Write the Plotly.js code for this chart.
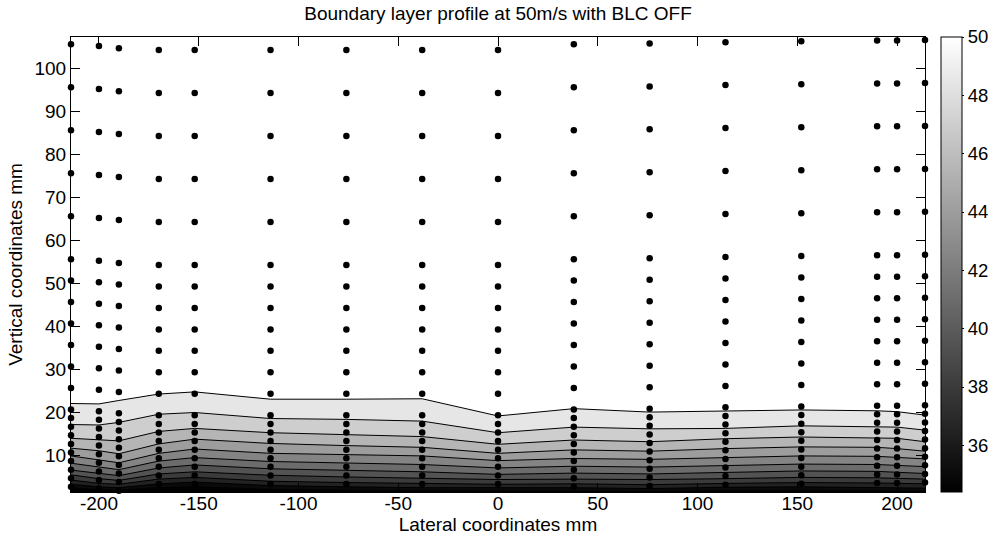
<!DOCTYPE html>
<html>
<head>
<meta charset="utf-8">
<script src="https://cdn.plot.ly/plotly-3.0.1.min.js"></script>
<style>
  html, body { margin: 0; padding: 0; background: #ffffff; }
  #chart { width: 988px; height: 540px; }
</style>
</head>
<body>
<div id="chart"></div>
<script>
// Lateral positions of the traverses (mm)
const lateralStations = [-214, -200, -190, -170, -152, -114, -76, -38, 0, 38, 76, 114, 152, 190, 200, 214];

// Nominal probe heights above the wall (mm) and the height offset of each traverse (mm)
const probeHeights = [2, 4, 6, 8, 10, 12, 14, 16, 18, 20, 25, 30, 35, 40, 45, 50, 55, 65, 75, 85, 95, 105];
const traverseOffset = [0.6, 0.2, -0.3, -0.75, -0.75, -0.75, -0.75, -0.75, -0.75, 0.6, 0.8, 1.1, 1.3, 1.5, 1.5, 1.6];

// Velocity range of the measurements (m/s)
const velocityMin = 34.4;
const velocityMax = 50;

// Iso-velocity levels (m/s)
const contourLevels = [35, 36.5, 38, 39.5, 41, 42.5, 44, 45.5, 47, 48.5, 50];

// Height (mm) of each iso-velocity line at every traverse
const level35   = [2.4, 1.9, 1.8, 2.4, 2.6, 2.0, 1.8, 1.7, 1.7, 1.6, 1.6, 1.7, 1.8, 1.7, 1.7, 1.6];
const level36_5 = [3.2, 2.6, 2.4, 3.3, 3.7, 2.9, 2.6, 2.4, 2.4, 2.4, 2.2, 2.5, 2.6, 2.5, 2.5, 2.3];
const level38   = [4.2, 3.4, 3.2, 4.4, 4.8, 3.9, 3.6, 3.4, 3.2, 3.3, 3.1, 3.4, 3.6, 3.5, 3.4, 3.3];
const level39_5 = [5.4, 4.5, 4.1, 5.6, 6.1, 5.3, 4.9, 4.6, 4.3, 4.4, 4.3, 4.5, 4.8, 4.7, 4.6, 4.4];
const level41   = [6.5, 5.7, 5.2, 7.0, 7.7, 6.8, 6.4, 6.1, 5.5, 5.8, 5.6, 5.9, 6.3, 6.2, 6.0, 5.7];
const level42_5 = [8.1, 7.2, 6.6, 8.6, 9.4, 8.5, 8.2, 7.8, 7.0, 7.4, 7.2, 7.6, 7.9, 7.8, 7.6, 7.3];
const level44   = [9.8, 8.9, 8.2, 10.4, 11.4, 10.4, 10.1, 9.8, 8.7, 9.2, 9.0, 9.4, 9.8, 9.7, 9.4, 9.1];
const level45_5 = [11.6, 11.0, 10.3, 12.6, 13.7, 12.7, 12.2, 11.8, 10.4, 11.2, 10.9, 11.5, 11.9, 11.8, 11.5, 10.9];
const level47   = [13.9, 13.6, 13.3, 15.5, 16.2, 15.2, 14.8, 14.3, 12.5, 13.5, 13.1, 13.8, 14.2, 14.1, 13.9, 13.1];
const level48_5 = [17.1, 17.0, 17.6, 19.5, 19.9, 18.5, 18.3, 17.9, 15.2, 16.5, 16.1, 16.2, 16.8, 16.6, 16.5, 15.8];
const level50   = [22.0, 21.9, 22.7, 24.2, 24.7, 23.0, 23.0, 23.1, 19.1, 20.8, 20.0, 20.2, 20.5, 20.3, 20.1, 19.3];

const levelHeights = [level35, level36_5, level38, level39_5, level41, level42_5,
                      level44, level45_5, level47, level48_5, level50];

// Axis ticks
const xTickValues = [-200, -150, -100, -50, 0, 50, 100, 150, 200];
const xTickLabels = ['-200', '-150', '-100', '-50', '0', '50', '100', '150', '200'];
const yTickValues = [10, 20, 30, 40, 50, 60, 70, 80, 90, 100];
const colorbarTicks = [36, 38, 40, 42, 44, 46, 48, 50];

const FONT = 'Liberation Sans, Arial, Helvetica, sans-serif';

// Grey colormap: black at the lowest velocity, white at the highest
function greyFor(v) {
  let t = (v - velocityMin) / (velocityMax - velocityMin);
  t = Math.max(0, Math.min(1, t));
  const g = Math.round(255 * t);
  return 'rgb(' + g + ',' + g + ',' + g + ')';
}

const traces = [];

// Filled bands: each iso-line is filled down to the wall with the colour of the
// band just beneath it, drawn from the highest level to the lowest.
for (let k = contourLevels.length - 1; k >= 0; k--) {
  const below = k > 0 ? contourLevels[k - 1] : velocityMin;
  traces.push({
    type: 'scatter',
    mode: 'lines',
    x: lateralStations,
    y: levelHeights[k],
    fill: 'tozeroy',
    fillcolor: greyFor(below),
    line: { color: '#000000', width: 1 },
    hoverinfo: 'skip',
    showlegend: false
  });
}

// Probe positions
const px = [], py = [];
lateralStations.forEach((xs, i) => {
  probeHeights.forEach(h => {
    px.push(xs);
    py.push(h + traverseOffset[i]);
  });
});
traces.push({
  type: 'scatter',
  mode: 'markers',
  x: px,
  y: py,
  marker: { color: '#000000', size: 6.5, line: { width: 0 } },
  cliponaxis: false,
  hoverinfo: 'x+y',
  showlegend: false
});

// Colour scale legend for the velocity
traces.push({
  type: 'scatter',
  mode: 'markers',
  x: [lateralStations[0]],
  y: [probeHeights[probeHeights.length - 1]],
  marker: {
    color: [velocityMin],
    cmin: velocityMin,
    cmax: velocityMax,
    colorscale: [[0, '#000000'], [1, '#ffffff']],
    showscale: true,
    opacity: 0,
    size: 1,
    colorbar: {
      thickness: 21,
      thicknessmode: 'pixels',
      len: 1,
      lenmode: 'fraction',
      x: 1.0187,
      xanchor: 'left',
      xpad: 0,
      y: 0.5,
      yanchor: 'middle',
      ypad: 0,
      outlinecolor: '#000000',
      outlinewidth: 1,
      tickvals: colorbarTicks,
      ticks: 'outside',
      ticklen: 2,
      tickcolor: '#000000',
      tickfont: { family: FONT, size: 18.5, color: '#000000' }
    }
  },
  hoverinfo: 'skip',
  showlegend: false
});

const axisCommon = {
  showline: true,
  linecolor: '#000000',
  linewidth: 1,
  mirror: 'ticks',
  ticks: 'inside',
  ticklen: 9,
  tickwidth: 1,
  tickcolor: '#000000',
  showgrid: false,
  zeroline: false,
  tickfont: { family: FONT, size: 19, color: '#000000' }
};

const layout = {
  width: 988,
  height: 540,
  paper_bgcolor: '#ffffff',
  plot_bgcolor: '#ffffff',
  margin: { l: 71, r: 63, t: 37, b: 48, pad: 0, autoexpand: false },
  font: { family: FONT, size: 19, color: '#000000' },
  title: {
    text: 'Boundary layer profile at 50m/s with BLC OFF',
    font: { family: FONT, size: 19, color: '#000000' },
    x: 0.5, xref: 'paper', xanchor: 'center',
    y: 1 - 13 / 540, yref: 'container', yanchor: 'middle'
  },
  xaxis: Object.assign({}, axisCommon, {
    range: [-214, 214],
    tickmode: 'array',
    tickvals: xTickValues,
    ticktext: xTickLabels,
    ticklabelstandoff: -6,
    title: { text: 'Lateral coordinates mm', font: { family: FONT, size: 19, color: '#000000' }, standoff: 0 }
  }),
  yaxis: Object.assign({}, axisCommon, {
    range: [1.4, 107.3],
    tickmode: 'array',
    tickvals: yTickValues,
    title: { text: 'Vertical coordinates mm', font: { family: FONT, size: 19, color: '#000000' }, standoff: 6 }
  }),
  showlegend: false
};

Plotly.newPlot('chart', traces, layout, { staticPlot: true, displayModeBar: false });
</script>
</body>
</html>
